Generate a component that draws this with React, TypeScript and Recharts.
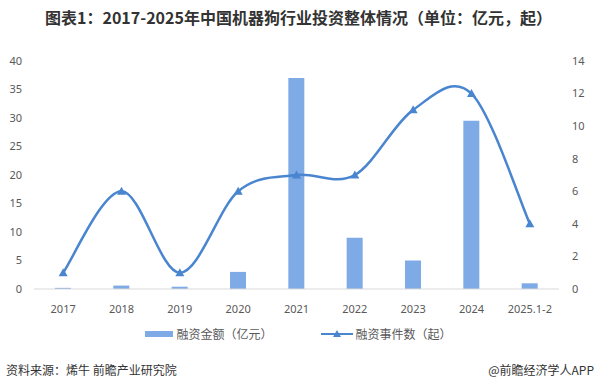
import React from "react";
import { ComposedChart, Bar, Line, XAxis, YAxis } from "recharts";

const categories = ["2017", "2018", "2019", "2020", "2021", "2022", "2023", "2024", "2025.1-2"];
const amounts = [0.2, 0.6, 0.4, 3, 37, 9, 5, 29.5, 1];
const events = [1, 6, 1, 6, 7, 7, 11, 12, 4];
const leftTicks = [0, 5, 10, 15, 20, 25, 30, 35, 40];
const rightTicks = [0, 2, 4, 6, 8, 10, 12, 14];

const BAR_COLOR = "#7EAAE6";
const LINE_COLOR = "#4A85D0";
const CJK = '"Noto Sans CJK SC", "Noto Sans", sans-serif';
const NUM = '"Noto Sans", "Open Sans", sans-serif';

const data = categories.map((c, i) => ({ name: c, amount: amounts[i], events: events[i] }));

// Catmull-Rom style smoothing (like a spreadsheet "smoothed line")
const smoothCurve = (context: any) => {
  let pts: number[][] = [];
  return {
    areaStart() {},
    areaEnd() {},
    lineStart() {
      pts = [];
    },
    point(x: number, y: number) {
      pts.push([+x, +y]);
    },
    lineEnd() {
      const n = pts.length;
      if (!n) return;
      context.moveTo(pts[0][0], pts[0][1]);
      for (let i = 0; i < n - 1; i++) {
        const p0 = pts[Math.max(0, i - 1)];
        const p1 = pts[i];
        const p2 = pts[i + 1];
        const p3 = pts[Math.min(n - 1, i + 2)];
        const c1x = p1[0] + (p2[0] - p0[0]) / 6;
        const c1y = p1[1] + (p2[1] - p0[1]) / 6;
        const c2x = p2[0] - (p3[0] - p1[0]) / 6;
        const c2y = p2[1] - (p3[1] - p1[1]) / 6;
        context.bezierCurveTo(c1x, c1y, c2x, c2y, p2[0], p2[1]);
      }
    },
  };
};

const Tri = (props: any) => {
  const { cx, cy } = props;
  if (cx == null || cy == null) return null;
  return <polygon points={`${cx},${cy - 4.5} ${cx - 4.5},${cy + 3.5} ${cx + 4.5},${cy + 3.5}`} fill={LINE_COLOR} />;
};

const LegendBox = () => (
  <div style={{ position: "absolute", top: 325, left: 0, width: 597, display: "flex", alignItems: "center", justifyContent: "center", fontFamily: CJK, fontSize: 12, color: "#595959" }}>
    <svg width={28} height={10} style={{ marginRight: 3 }}>
      <rect x={0} y={2} width={28} height={6} fill={BAR_COLOR} />
    </svg>
    <span>融资金额（亿元）</span>
    <svg width={32} height={10} style={{ marginLeft: 48, marginRight: 3 }}>
      <line x1={0} y1={5} x2={32} y2={5} stroke={LINE_COLOR} strokeWidth={2} />
      <polygon points="16,1 12,8 20,8" fill={LINE_COLOR} />
    </svg>
    <span>融资事件数（起）</span>
  </div>
);

export default function App() {
  return (
    <div style={{ position: "absolute", left: 0, top: 0, width: 597, height: 391, background: "#fff", overflow: "hidden" }}>
      <div style={{ position: "absolute", top: 5, left: 0, width: 597, textAlign: "center", fontFamily: CJK, fontWeight: 700, fontSize: 16, color: "#333" }}>
        图表1：2017-2025年中国机器狗行业投资整体情况（单位：亿元，起）
      </div>
      <div style={{ position: "absolute", top: 0, left: 0 }}>
        <ComposedChart width={597} height={350} data={data} margin={{ top: 61, right: 0, bottom: 31, left: 0 }} barCategoryGap={0}>
          <XAxis
            dataKey="name"
            axisLine={{ stroke: "#D9D9D9" }}
            tickLine={false}
            tick={{ fill: "#595959", fontSize: 11, fontFamily: NUM }}
            tickMargin={10}
            height={30}
          />
          <YAxis
            yAxisId="l"
            domain={[0, 40]}
            ticks={leftTicks}
            axisLine={false}
            tickLine={false}
            tickSize={0}
            tickMargin={12}
            width={34}
            tick={{ fill: "#595959", fontSize: 11, fontFamily: NUM }}
          />
          <YAxis
            yAxisId="r"
            orientation="right"
            domain={[0, 14]}
            ticks={rightTicks}
            axisLine={false}
            tickLine={false}
            tickSize={0}
            tickMargin={13}
            width={38}
            tick={{ fill: "#595959", fontSize: 11, fontFamily: NUM, textAnchor: "start" }}
          />
          <Bar yAxisId="l" dataKey="amount" fill={BAR_COLOR} barSize={16} isAnimationActive={false} />
          <Line
            yAxisId="r"
            type={smoothCurve as any}
            dataKey="events"
            stroke={LINE_COLOR}
            strokeWidth={2.5}
            dot={<Tri />}
            activeDot={false}
            isAnimationActive={false}
          />
        </ComposedChart>
      </div>
      <LegendBox />
      <div style={{ position: "absolute", top: 361, left: 6, fontFamily: CJK, fontSize: 12, color: "#333" }}>
        资料来源：烯牛 前瞻产业研究院
      </div>
      <div style={{ position: "absolute", top: 361, right: 3, fontFamily: CJK, fontSize: 12, color: "#333" }}>
        @前瞻经济学人APP
      </div>
    </div>
  );
}
